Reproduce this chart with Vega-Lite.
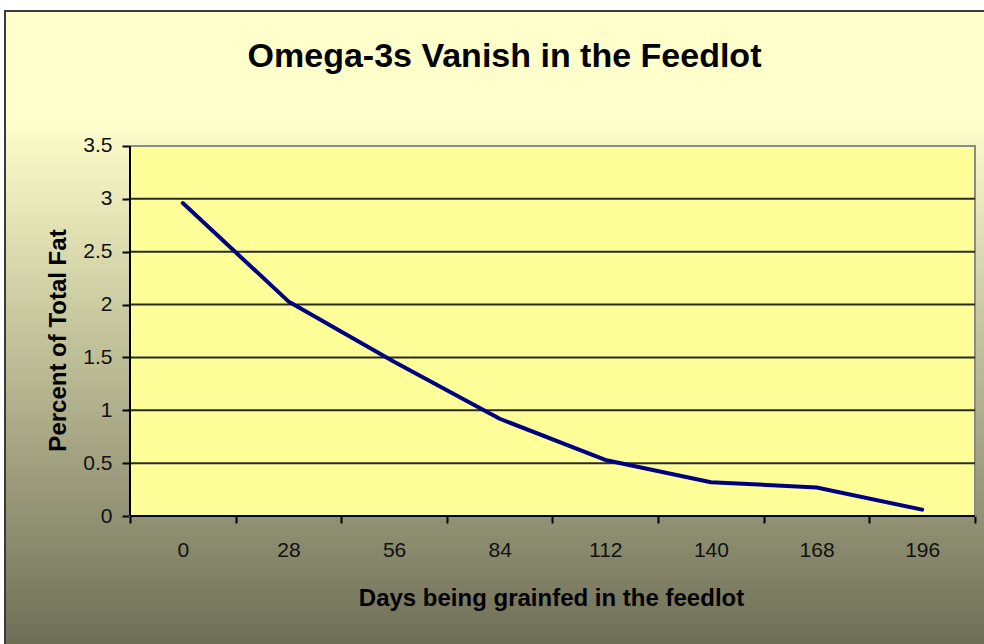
{
  "$schema": "https://vega.github.io/schema/vega-lite/v6.json",
  "width": 981,
  "height": 635,
  "autosize": "none",
  "padding": {"left": 5, "top": 11, "right": 0, "bottom": 0},
  "background": "white",
  "config": {
    "font": "Liberation Sans",
    "view": {
      "fill": {
        "gradient": "linear",
        "x1": 0, "y1": 0, "x2": 0, "y2": 1,
        "stops": [
          {"offset": 0, "color": "#FFFFCC"},
          {"offset": 0.17, "color": "#FFFFCC"},
          {"offset": 1, "color": "#6E6E57"}
        ]
      },
      "stroke": "#3a3a3a",
      "strokeWidth": 2
    }
  },
  "title": {
    "text": "Omega-3s Vanish in the Feedlot",
    "font": "Liberation Sans",
    "fontSize": 34,
    "fontWeight": "bold",
    "color": "#000000",
    "anchor": "middle",
    "baseline": "alphabetic",
    "offset": -90,
    "dx": 9
  },
  "datasets": {
    "omega": [
      {"day": 0, "pct": 2.96},
      {"day": 28, "pct": 2.03},
      {"day": 56, "pct": 1.46},
      {"day": 84, "pct": 0.92},
      {"day": 112, "pct": 0.53},
      {"day": 140, "pct": 0.32},
      {"day": 168, "pct": 0.27},
      {"day": 196, "pct": 0.06}
    ],
    "grid": [
      {"v": 0.5}, {"v": 1}, {"v": 1.5}, {"v": 2}, {"v": 2.5}, {"v": 3}
    ]
  },
  "layer": [
    {
      "data": {"values": [{}]},
      "mark": {"type": "rect", "fill": "#FFFF99", "stroke": "#8a8a8a", "strokeWidth": 2},
      "encoding": {
        "x": {
          "datum": -14,
          "type": "quantitative",
          "scale": {"domain": [-47.136, 212.92], "nice": false, "zero": false},
          "axis": {
            "orient": "bottom",
            "offset": -130,
            "values": [-14, 0, 14, 28, 42, 56, 70, 84, 98, 112, 126, 140, 154, 168, 182, 196, 210],
            "labelExpr": "datum.value % 28 == 0 ? datum.label : ''",
            "tickOpacity": {"condition": {"test": "datum.value % 28 == 0", "value": 0}, "value": 1},
            "domain": false,
            "grid": false,
            "tickColor": "#000000",
            "tickWidth": 2,
            "tickSize": 7,
            "labelPadding": 16,
            "labelFont": "Liberation Sans",
            "labelFontSize": 21,
            "labelColor": "#111111",
            "labelOverlap": false,
            "labelFlush": false,
            "title": "Days being grainfed in the feedlot",
            "titleFont": "Liberation Sans",
            "titleFontSize": 24,
            "titleFontWeight": "bold",
            "titleColor": "#000000",
            "titleX": 546,
            "titleY": 89,
            "titleBaseline": "alphabetic",
            "titleAlign": "center"
          }
        },
        "x2": {"datum": 210},
        "y": {
          "datum": 0,
          "type": "quantitative",
          "scale": {"domain": [-1.2297, 4.777], "nice": false, "zero": false},
          "axis": {
            "orient": "left",
            "offset": -125,
            "values": [0, 0.5, 1, 1.5, 2, 2.5, 3, 3.5],
            "format": "~g",
            "domain": false,
            "grid": false,
            "tickColor": "#000000",
            "tickWidth": 2,
            "tickSize": 8,
            "labelPadding": 10,
            "labelFont": "Liberation Sans",
            "labelFontSize": 21,
            "labelColor": "#111111",
            "labelOverlap": false,
            "labelFlush": false,
            "title": "Percent of Total Fat",
            "titleFont": "Liberation Sans",
            "titleFontSize": 24,
            "titleFontWeight": "bold",
            "titleColor": "#000000",
            "titleAngle": 270,
            "titleX": -65,
            "titleY": 329,
            "titleBaseline": "alphabetic",
            "titleAlign": "center"
          }
        },
        "y2": {"datum": 3.5}
      }
    },
    {
      "data": {"name": "grid"},
      "mark": {"type": "rule", "color": "#2b2b22", "strokeWidth": 2},
      "encoding": {
        "y": {"field": "v", "type": "quantitative"},
        "x": {"datum": -14, "type": "quantitative"},
        "x2": {"datum": 210}
      }
    },
    {
      "data": {"values": [{}]},
      "mark": {"type": "rule", "color": "#000000", "strokeWidth": 2},
      "encoding": {
        "x": {"datum": -14, "type": "quantitative"},
        "y": {"datum": 0, "type": "quantitative"},
        "y2": {"datum": 3.5}
      }
    },
    {
      "data": {"values": [{}]},
      "mark": {"type": "rule", "color": "#000000", "strokeWidth": 2},
      "encoding": {
        "y": {"datum": 0, "type": "quantitative"},
        "x": {"datum": -14, "type": "quantitative"},
        "x2": {"datum": 210}
      }
    },
    {
      "data": {"name": "omega"},
      "mark": {"type": "line", "color": "#000080", "strokeWidth": 4, "strokeCap": "round", "strokeJoin": "round"},
      "encoding": {
        "x": {"field": "day", "type": "quantitative"},
        "y": {"field": "pct", "type": "quantitative"}
      }
    }
  ]
}
